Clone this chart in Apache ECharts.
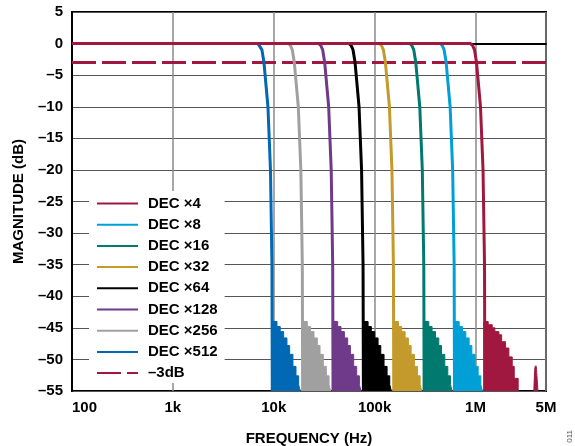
<!DOCTYPE html>
<html>
<head>
<meta charset="utf-8">
<script src="https://cdn.jsdelivr.net/npm/echarts@6/dist/echarts.min.js"></script>
<style>
html,body{margin:0;padding:0;background:#fff;}
#c{width:575px;height:446px;}
</style>
</head>
<body>
<div id="c"></div>
<script>
// ---- data ----
const names = ['DEC ×4','DEC ×8','DEC ×16','DEC ×32','DEC ×64','DEC ×128','DEC ×256','DEC ×512'];
const colors = ['#A0183F','#00A0D6','#007A6E','#C49A2C','#000000','#6F3A8A','#A0A0A0','#0068B5'];
const legendNames = ['DEC ×4','DEC ×8','DEC ×16','DEC ×32','DEC ×64','DEC ×128','DEC ×256','DEC ×512','–3dB'];

// passband + transition (dB), shared shape
const transDB = [0, 0, -0.3, -1, -3, -10, -20, -35, -55];
const transF4   = [100, 892900, 934900, 977900, 1024000, 1121000, 1188000, 1228800, 1238000];
const transF8   = [100, 446500, 467500, 489000, 512000, 560600, 593900, 614400, 619000];
const transF16  = [100, 223200, 233700, 244500, 256000, 280300, 297000, 307200, 309500];
const transF32  = [100, 111600, 116900, 122200, 128000, 140200, 148500, 153600, 154800];
const transF64  = [100, 55810, 58430, 61120, 64000, 70080, 74240, 76800, 77380];
const transF128 = [100, 27900, 29220, 30560, 32000, 35040, 37120, 38400, 38690];
const transF256 = [100, 13950, 14610, 15280, 16000, 17520, 18560, 19200, 19340];
const transF512 = [100, 6980, 7300, 7640, 8000, 8760, 9280, 9600, 9670];

// stopband envelopes (dB)
const stopDB = [-55, -44.0, -44.8, -45.6, -46.6, -47.8, -49.2, -51.1, -52.6, -54.0, -55];
const stopF8   = [614400, 614400, 689200, 742400, 802300, 865300, 920600, 992300, 1063000, 1130000, 1172000];
const stopF16  = [307200, 307200, 344600, 371200, 401200, 432600, 460300, 496100, 531500, 565200, 586200];
const stopF32  = [153600, 153600, 172300, 185600, 200600, 216300, 230100, 248100, 265700, 282600, 293100];
const stopF64  = [76800, 76800, 86140, 92800, 100300, 108200, 115100, 124000, 132900, 141300, 146600];
const stopF128 = [38400, 38400, 43070, 46400, 50140, 54080, 57540, 62020, 66430, 70660, 73280];
const stopF256 = [19200, 19200, 21540, 23200, 25070, 27040, 28770, 31010, 33220, 35330, 36640];
const stopF512 = [9600, 9600, 10770, 11600, 12540, 13520, 14380, 15500, 16610, 17660, 18320];
const stopF4   = [1211000, 1211000, 1337000, 1465000, 1557000, 1707000, 1816000, 1988000, 2143000, 2313000, 2422000, 2650000];
const stopDB4  = [-55, -44, -44.5, -45.0, -45.6, -46.1, -47.2, -48.2, -49.6, -51.1, -53, -55];
const bumpF4   = [3790000, 3880000, 3970000, 4060000, 4160000];
const bumpDB4  = [-55, -51.3, -51, -52.5, -55];

const m3dBF  = [100, 5000000];
const m3dBdB = [-3, -3];

const xTickLabels = {100:'100', 1000:'1k', 10000:'10k', 100000:'100k', 1000000:'1M', 5000000:'5M'};

// ---- build ----
const zip = (a, b) => a.map((v, i) => [v, b[i]]);
const transF = [transF4, transF8, transF16, transF32, transF64, transF128, transF256, transF512];
const stopF = [stopF4, stopF8, stopF16, stopF32, stopF64, stopF128, stopF256, stopF512];
const FONT = '"Liberation Sans", Arial, Helvetica, sans-serif';

const series = [];
series.push({
  name: '–3dB', type: 'line', data: zip(m3dBF, m3dBdB), symbol: 'none',
  lineStyle: {color: colors[0], width: 3, type: [24, 6]}, itemStyle: {color: colors[0]}, z: 2
});
for (let i = 7; i >= 0; i--) {
  const db = i === 0 ? stopDB4 : stopDB;
  series.push({
    name: names[i] + ' stop', type: 'line', step: 'end', data: zip(stopF[i], db), symbol: 'none',
    lineStyle: {color: colors[i], width: 1}, areaStyle: {color: colors[i], opacity: 1, origin: 'start'},
    itemStyle: {color: colors[i]}, z: 3, silent: true
  });
}
series.push({
  name: 'DEC ×4 bump', type: 'line', data: zip(bumpF4, bumpDB4), symbol: 'none', smooth: 0.3,
  lineStyle: {color: colors[0], width: 1}, areaStyle: {color: colors[0], opacity: 1, origin: 'start'}, z: 3
});
for (let i = 7; i >= 0; i--) {
  series.push({
    name: names[i], type: 'line', data: zip(transF[i], transDB), symbol: 'none',
    lineStyle: {color: colors[i], width: 3}, itemStyle: {color: colors[i]}, z: 4
  });
}

const chart = echarts.init(document.getElementById('c'), null, {renderer: 'canvas'});
chart.setOption({
  animation: false,
  backgroundColor: '#fff',
  textStyle: {fontFamily: FONT},
  grid: {left: 72, right: 29, top: 12, bottom: 55, show: true, borderColor: '#000', borderWidth: 2,
         containLabel: false, outerBoundsMode: 'none'},
  legend: {
    data: legendNames, orient: 'vertical', left: 89, top: 191,
    itemWidth: 41, itemHeight: 15, itemGap: 6.2, padding: [5, 7, 2.4, 7],
    backgroundColor: '#fff',
    itemStyle: {opacity: 0},
    textStyle: {fontFamily: FONT, fontWeight: 'bold', fontSize: 15, color: '#000', padding: [0, 0, 0, 5]}
  },
  xAxis: {
    type: 'log', logBase: 10, min: 100, max: 5000000,
    axisLine: {show: true, lineStyle: {color: '#000', width: 2}},
    axisTick: {show: false},
    splitLine: {show: true, lineStyle: {color: '#8a8a8a', width: 1.5}},
    axisLabel: {
      color: '#000', fontWeight: 'bold', fontSize: 15, fontFamily: FONT, margin: 9,
      showMinLabel: true, showMaxLabel: true, alignMinLabel: 'left',
      formatter: v => { const r = Math.round(v); return xTickLabels[r] !== undefined ? xTickLabels[r] : ''; }
    },
    name: 'FREQUENCY (Hz)', nameLocation: 'middle', nameGap: 40,
    nameTextStyle: {color: '#000', fontWeight: 'bold', fontSize: 15, fontFamily: FONT}
  },
  yAxis: {
    type: 'value', min: -55, max: 5, interval: 5,
    axisLine: {show: true, lineStyle: {color: '#000', width: 2}},
    axisTick: {show: false},
    splitLine: {show: true, lineStyle: {color: '#555', width: 1}},
    axisLabel: {
      color: '#000', fontWeight: 'bold', fontSize: 15, fontFamily: FONT, margin: 9,
      formatter: v => String(v).replace('-', '–')
    },
    name: 'MAGNITUDE (dB)', nameLocation: 'middle', nameGap: 46, nameRotate: 90,
    nameTextStyle: {color: '#000', fontWeight: 'bold', fontSize: 15, fontFamily: FONT}
  },
  graphic: [{
    type: 'text', left: 566, top: 430, rotation: Math.PI / 2,
    style: {text: '011', fontSize: 8, fill: '#555', fontFamily: FONT}
  }],
  series: series
});
</script>
</body>
</html>
